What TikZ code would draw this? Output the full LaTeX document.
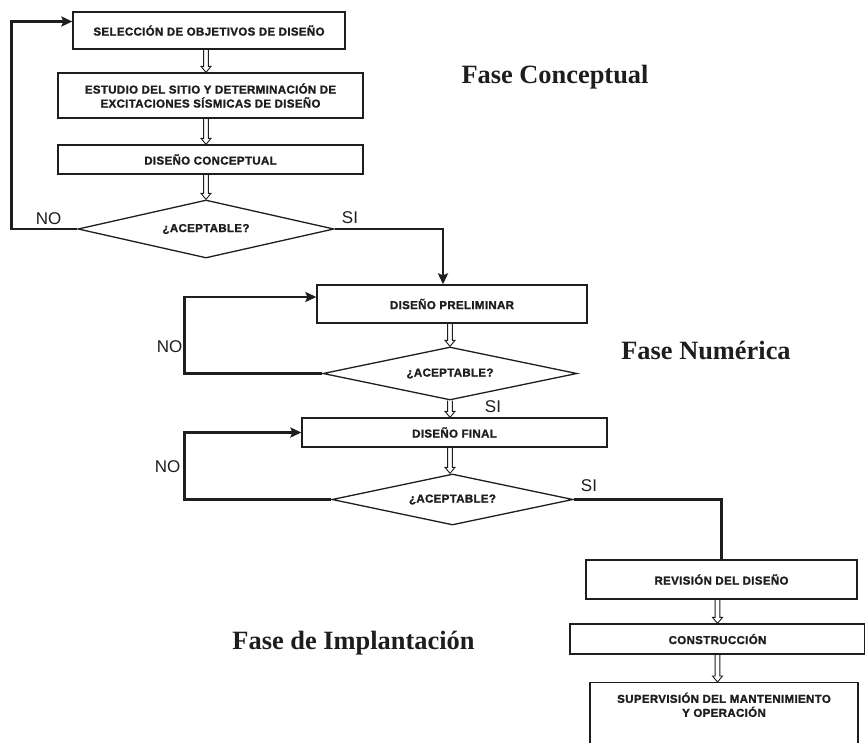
\documentclass[tikz,border=0pt]{standalone}
\usepackage{fontspec}
\setmainfont{Liberation Serif}
\setsansfont{Liberation Sans}
\newfontfamily\boxfont[LetterSpace=3,BoldFeatures={FakeBold=1.5}]{Liberation Sans}
\usetikzlibrary{shapes.geometric,arrows.meta,calc}
\definecolor{ink}{RGB}{30,30,30}
\newcommand\harrow[3]{%
  \path (#1.south) coordinate (ha1) (#2.north) coordinate (ha2) (#3.center) coordinate (ha3);
  \draw[hollow] ($(ha1 -| ha3)+(-2.4,0)$) -- ($(ha2 -| ha3)+(-2.4,-6)$) -- ($(ha2 -| ha3)+(-5,-6)$)
    -- (ha2 -| ha3) -- ($(ha2 -| ha3)+(5,-6)$) -- ($(ha2 -| ha3)+(2.4,-6)$) -- ($(ha1 -| ha3)+(2.4,0)$);}
\tikzset{
  box/.style={draw=ink, line width=1.3pt, fill=white, inner sep=0pt, align=center, text=ink,
    font=\boxfont\bfseries\fontsize{11.5}{14}\selectfont},
  dec/.style={diamond, aspect=4.4, draw=ink, line width=1.3pt, inner sep=0pt, text=ink,
    font=\boxfont\bfseries\fontsize{11.5}{14}\selectfont},
  loopline/.style={draw=ink, line width=2.8pt, -{Stealth[length=11pt,width=10pt,inset=2pt]}},
  siline/.style={draw=ink, line width=2.8pt},
  yesno/.style={font=\sffamily\fontsize{17}{17}\selectfont, inner sep=0pt, text=ink},
  phase/.style={font=\bfseries\fontsize{26.4}{30}\selectfont, text=ink, inner sep=0pt},
  hollow/.style={draw=ink, line width=0.9pt, line join=miter},
}
\begin{document}
\begin{tikzpicture}[x=1pt,y=-1pt]
\useasboundingbox (0,0) rectangle (865,742);
\fill[white] (0,0) rectangle (865,742);

% Fase Conceptual
\node[box, minimum width=272pt, minimum height=37pt] (b1) at (209,30.5) {SELECCIÓN DE OBJETIVOS DE DISEÑO};
\node[box, minimum width=305pt, minimum height=45pt] (b2) at (210.5,95.5) {ESTUDIO DEL SITIO Y DETERMINACIÓN DE\\EXCITACIONES SÍSMICAS DE DISEÑO};
\node[box, minimum width=305pt, minimum height=29pt] (b3) at (210.5,159.5) {DISEÑO CONCEPTUAL};
\node[dec, minimum width=256pt, minimum height=58pt] (d1) at (206,229) {¿ACEPTABLE?};

% Fase Numerica
\node[box, minimum width=270pt, minimum height=38pt] (b4) at (452,304) {DISEÑO PRELIMINAR};
\node[dec, minimum width=254pt, minimum height=53pt] (d2) at (450,373.5) {¿ACEPTABLE?};
\node[box, minimum width=305pt, minimum height=29pt] (b5) at (454.5,432.5) {DISEÑO FINAL};
\node[dec, minimum width=241pt, minimum height=51pt] (d3) at (452.5,499.5) {¿ACEPTABLE?};

% Fase de Implantacion
\node[box, minimum width=271pt, minimum height=39pt] (b6) at (721.5,579.5) {REVISIÓN DEL DISEÑO};
\node[box, minimum width=295pt, minimum height=30pt] (b7) at (717.5,639) {CONSTRUCCIÓN};
\node[box, minimum width=268pt, minimum height=80pt, anchor=north] (b8) at (724,682) {};
\node[box, draw=none, fill=none, anchor=north] (t8) at ($(b8.north)+(0,10)$) {SUPERVISIÓN DEL MANTENIMIENTO\\Y OPERACIÓN};

% hollow arrows
\harrow{b1}{b2}{d1}
\harrow{b2}{b3}{d1}
\harrow{b3}{d1}{d1}
\harrow{b4}{d2}{d2}
\harrow{d2}{b5}{d2}
\harrow{b5}{d3}{d2}
\harrow{b6}{b7}{b7}
\harrow{b7}{b8}{b7}

% loops
\draw[loopline] (d1.west) -- ++(-66,0) |- ($(b1.west)+(0,-9)$);
\draw[loopline] (d2.west) -- ++(-138,0) |- ($(b4.west)+(0,-7)$);
\draw[loopline] (d3.west) -- ++(-147,0) |- (b5.west);
\draw[loopline] (d1.east) -| ($(b4.north)+(-9,0)$);
\draw[siline] (d3.east) -| (b6.north);

% labels
\node[yesno] (no1) at (48.5,219) {NO};
\node[yesno] (si1) at (350,218) {SI};
\node[yesno] (no2) at (169.5,347) {NO};
\node[yesno] (si2) at (493,407) {SI};
\node[yesno] (no3) at (167.5,467) {NO};
\node[yesno] (si3) at (589,486) {SI};

\node[phase] (p1) at (555,77) {Fase Conceptual};
\node[phase] (p2) at (706,350) {Fase Numérica};
\node[phase] (p3) at (353.5,643) {Fase de Implantación};
\end{tikzpicture}
\end{document}
